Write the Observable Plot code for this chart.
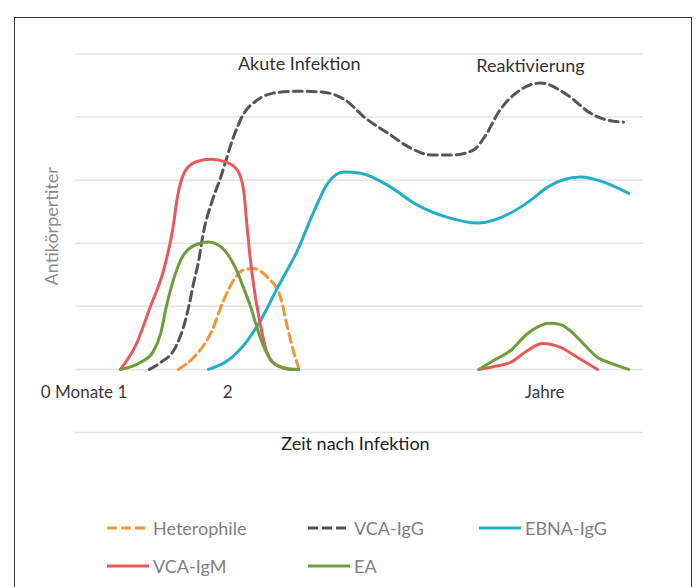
<!DOCTYPE html>
<html>
<head>
<meta charset="utf-8">
<script src="https://cdn.jsdelivr.net/npm/d3@7"></script>
<script src="https://cdn.jsdelivr.net/npm/@observablehq/plot@0.6"></script>
<style>
  html, body { margin: 0; padding: 0; background: #fff; }
  #wrap { position: relative; width: 697px; height: 587px; overflow: hidden; background: #fff; font-family: Lato, "DejaVu Sans", sans-serif; }
  #frame { position: absolute; left: 14px; top: 17px; width: 678px; height: 620px; border: 1.5px solid #3a3a3a; box-sizing: border-box; }
  #chart { position: absolute; left: 0; top: 0; }
  .leg { position: absolute; display: flex; align-items: center; height: 24px; font-size: 18px; color: #808080; white-space: nowrap; }
  .leg svg { display: block; margin-right: 4px; }
</style>
</head>
<body>
<div id="wrap">
  <div id="frame"></div>
  <div id="chart"></div>
</div>
<script>
// ---- Data (x: time in arbitrary units 0..100, y: titre in gridline units) ----
const heterophileX = [18.1, 20.8, 23.8, 26.1, 27.8, 29.4, 31.2, 33.8, 36.1, 37.3, 38.7, 39.3];
const heterophileY = [0, 0.19, 0.57, 1.10, 1.41, 1.57, 1.60, 1.46, 1.14, 0.67, 0.19, 0.02];

const vcaIgGX = [13.0, 15.0, 17.6, 19.0, 19.9, 20.8, 21.7, 22.5, 24.1, 25.5, 27.8, 29.4, 32.0, 34.9, 38.7, 43.1, 47.5, 51.1, 54.9, 59.0, 62.5, 66.5, 70.1, 72.2, 74.5, 78.3, 81.9, 86.6, 90.7, 93.7, 96.5];
const vcaIgGY = [0, 0.11, 0.35, 0.67, 0.98, 1.37, 1.73, 2.16, 2.68, 3.03, 3.68, 4.02, 4.27, 4.38, 4.41, 4.40, 4.27, 3.98, 3.75, 3.51, 3.40, 3.40, 3.48, 3.71, 4.08, 4.43, 4.54, 4.35, 4.06, 3.95, 3.92];

const ebnaIgGX = [23.4, 26.8, 30.3, 32.6, 35.6, 39.1, 41.9, 44.4, 47.2, 50.2, 55.5, 59.9, 65.5, 70.8, 76.6, 80.1, 83.1, 88.9, 93.0, 97.4];
const ebnaIgGY = [0, 0.14, 0.46, 0.78, 1.30, 1.89, 2.49, 2.95, 3.13, 3.11, 2.89, 2.62, 2.41, 2.32, 2.48, 2.68, 2.89, 3.05, 2.97, 2.79];

const vcaIgMAkutX = [7.9, 10.6, 13.2, 15.5, 17.1, 18.0, 19.4, 21.5, 23.8, 26.4, 28.5, 29.6, 30.1, 30.6, 31.5, 32.4, 33.5, 35.2, 37.9, 39.3];
const vcaIgMAkutY = [0, 0.38, 1.0, 1.57, 2.21, 2.76, 3.16, 3.30, 3.33, 3.29, 3.16, 2.84, 2.37, 1.89, 1.25, 0.78, 0.33, 0.08, 0, 0];
const vcaIgMReaktX = [71.0, 73.9, 76.6, 79.6, 82.2, 85.4, 88.4, 91.9];
const vcaIgMReaktY = [0, 0.05, 0.11, 0.30, 0.41, 0.35, 0.19, 0];

const eaAkutX = [7.9, 11.4, 13.6, 15.0, 16.0, 17.1, 18.5, 20.6, 23.4, 25.9, 28.2, 29.6, 30.8, 32.0, 33.3, 34.7, 37.0, 39.3];
const eaAkutY = [0, 0.11, 0.27, 0.57, 1.0, 1.38, 1.73, 1.95, 2.02, 1.92, 1.60, 1.29, 1.0, 0.65, 0.33, 0.11, 0.02, 0];
const eaReaktX = [71.0, 73.6, 76.6, 79.6, 81.3, 83.3, 85.4, 86.6, 89.4, 91.9, 94.2, 97.4];
const eaReaktY = [0, 0.14, 0.30, 0.57, 0.67, 0.73, 0.71, 0.65, 0.41, 0.19, 0.10, 0];

const gridValues = [-1, 0, 1, 2, 3, 4, 5];
const tickPositions = [1.5, 26.8, 82.6];
const tickLabels = ["0 Monate 1", "2", "Jahre"];
const phaseLabels = ["Akute Infektion", "Reaktivierung"];
const phaseX = [39.4, 80.1];
const phaseY = [4.84, 4.81];
const xTitle = "Zeit nach Infektion";
const yTitle = "Antikörpertiter";

const seriesNames = ["Heterophile", "VCA-IgG", "EBNA-IgG", "VCA-IgM", "EA"];
const seriesColors = ["#F0963A", "#555555", "#22AFC6", "#E65A5E", "#6E9E3C"];
const seriesDash = ["9,5", "9,5", null, null, null];

// ---- Build tables ----
function pts(xs, ys, name, part) {
  return xs.map((x, i) => ({x, y: ys[i], name, part: name + "-" + part}));
}
const tables = [
  pts(heterophileX, heterophileY, "Heterophile", 0),
  pts(vcaIgGX, vcaIgGY, "VCA-IgG", 0),
  pts(ebnaIgGX, ebnaIgGY, "EBNA-IgG", 0),
  [...pts(vcaIgMAkutX, vcaIgMAkutY, "VCA-IgM", 0), ...pts(vcaIgMReaktX, vcaIgMReaktY, "VCA-IgM", 1)],
  [...pts(eaAkutX, eaAkutY, "EA", 0), ...pts(eaReaktX, eaReaktY, "EA", 1)]
];
const ticks = tickPositions.map((x, i) => ({x, label: tickLabels[i]}));
const phases = phaseLabels.map((label, i) => ({label, x: phaseX[i], y: phaseY[i]}));

const font = "Lato, 'DejaVu Sans', sans-serif";

const chart = Plot.plot({
  width: 697,
  height: 587,
  marginLeft: 75,
  marginRight: 54,
  marginTop: 53.5,
  marginBottom: 155,
  style: {fontFamily: font, background: "transparent", overflow: "visible"},
  x: {domain: [0, 100], axis: null},
  y: {domain: [-1, 5], axis: null},
  marks: [
    Plot.ruleY(gridValues, {stroke: "#e3e3e3", strokeWidth: 1.5}),
    ...tables.map((t, i) => Plot.line(t, {
      x: "x", y: "y", z: "part",
      stroke: seriesColors[i], strokeWidth: 3,
      strokeDasharray: seriesDash[i] || undefined,
      curve: "monotone-x"
    })),
    Plot.text(phases, {x: "x", y: "y", text: "label", fill: "#333", fontSize: 18}),
    Plot.text(ticks, {x: "x", y: 0, text: "label", dy: 23, fill: "#3a3a3a", fontSize: 17}),
    Plot.text([xTitle], {frameAnchor: "bottom", text: d => d, dx: -4, dy: 17, fill: "#222", fontSize: 18}),
    Plot.text([yTitle], {frameAnchor: "left", textAnchor: "middle", text: d => d, rotate: -90, dx: -23, dy: -17, fill: "#8c8c8c", fontSize: 18})
  ]
});
document.getElementById("chart").appendChild(chart);

// ---- Legend (HTML) ----
const legendCols = [107, 308, 479];
const legendRows = [528, 566];
const legendSlots = [[0, 0], [1, 0], [2, 0], [0, 1], [1, 1]];
const wrap = d3.select("#wrap");
seriesNames.forEach((name, i) => {
  const [c, r] = legendSlots[i];
  const item = wrap.append("div").attr("class", "leg")
    .style("left", legendCols[c] + "px")
    .style("top", (legendRows[r] - 12) + "px");
  const svg = item.append("svg").attr("width", 42).attr("height", 10);
  svg.append("line").attr("x1", 0).attr("x2", 42).attr("y1", 5).attr("y2", 5)
    .attr("stroke", seriesColors[i]).attr("stroke-width", 3)
    .attr("stroke-dasharray", seriesDash[i] ? "10,4" : null);
  item.append("span").text(name);
});
</script>
</body>
</html>
